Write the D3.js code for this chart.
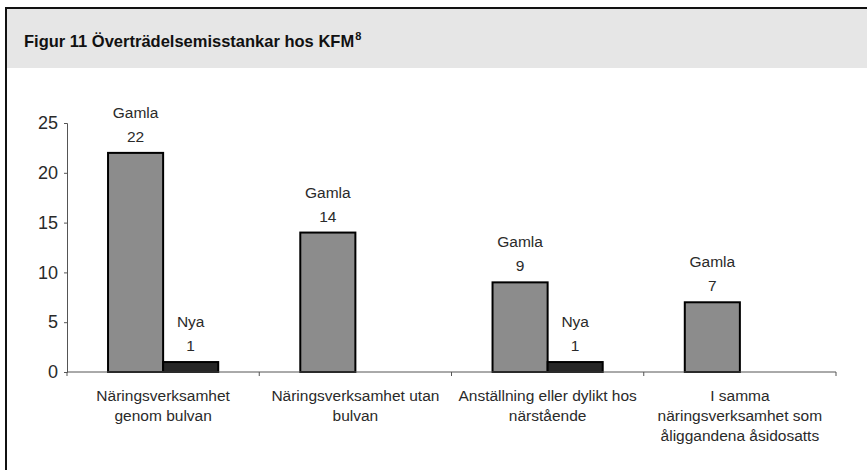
<!DOCTYPE html>
<html>
<head>
<meta charset="utf-8">
<script src="https://cdn.jsdelivr.net/npm/d3@7"></script>
<style>
  body { margin: 0; background: #fff; }
  text { font-family: "Liberation Sans", Arial, sans-serif; fill: #2a2a2a; }
</style>
</head>
<body>
<svg width="867" height="470"></svg>
<script>
// data
var categories = [
  ["Näringsverksamhet", "genom bulvan"],
  ["Näringsverksamhet utan", "bulvan"],
  ["Anställning eller dylikt hos", "närstående"],
  ["I samma", "näringsverksamhet som", "åliggandena åsidosatts"]
];
var series = ["Gamla", "Nya"];
var gamla = [22, 14, 9, 7];
var nya = [1, null, 1, null];
var yTicks = [0, 5, 10, 15, 20, 25];
var colors = { "Gamla": "#8c8c8c", "Nya": "#262626" };

var svg = d3.select("svg"),
    width = +svg.attr("width"),
    height = +svg.attr("height");

// frame + header band
svg.append("rect")
    .attr("x", 7).attr("y", 8)
    .attr("width", width - 7).attr("height", 60)
    .attr("fill", "#e6e6e6");
svg.append("line")
    .attr("x1", 6).attr("x2", width).attr("y1", 8).attr("y2", 8)
    .attr("stroke", "#111").attr("stroke-width", 2);
svg.append("line")
    .attr("x1", 6).attr("x2", 6).attr("y1", 7).attr("y2", height)
    .attr("stroke", "#111").attr("stroke-width", 2);

var title = svg.append("text")
    .attr("x", 24).attr("y", 47)
    .style("font-weight", "bold")
    .style("font-size", "16.5px")
    .style("fill", "#111");
title.append("tspan").text("Figur 11 Överträdelsemisstankar hos KFM");
title.append("tspan").attr("dy", -7).attr("dx", 1).style("font-size", "11px").text("8");

// chart
var margin = { left: 67, right: 31, top: 123, bottom: 98 };
var x0 = d3.scaleBand()
    .domain(d3.range(categories.length))
    .range([margin.left, width - margin.right]);
var x1 = d3.scaleBand()
    .domain(series)
    .range([0, x0.bandwidth()])
    .paddingOuter(0.745);
var y = d3.scaleLinear()
    .domain([0, 25])
    .range([height - margin.bottom, margin.top]);

var rows = [];
categories.forEach(function(c, i) {
  rows.push({ cat: i, s: "Gamla", v: gamla[i] });
  if (nya[i] != null) rows.push({ cat: i, s: "Nya", v: nya[i] });
});

var bars = svg.append("g");
bars.selectAll("rect")
    .data(rows)
    .enter().append("rect")
    .attr("x", function(d) { return x0(d.cat) + x1(d.s); })
    .attr("y", function(d) { return y(d.v); })
    .attr("width", x1.bandwidth())
    .attr("height", function(d) { return y(0) - y(d.v); })
    .attr("fill", function(d) { return colors[d.s]; })
    .attr("stroke", "#000")
    .attr("stroke-width", 2);

var lab = svg.append("g").style("font-size", "15.5px").attr("text-anchor", "middle");
rows.forEach(function(d) {
  var cx = x0(d.cat) + x1(d.s) + x1.bandwidth() / 2;
  lab.append("text").attr("x", cx).attr("y", y(d.v) - 11).text(d.v);
  lab.append("text").attr("x", cx).attr("y", y(d.v) - 35).text(d.s);
});

// y axis
var yAxis = svg.append("g")
    .attr("transform", "translate(" + margin.left + ",0)")
    .call(d3.axisLeft(y).tickValues(yTicks).tickSize(3).tickPadding(6));
yAxis.select(".domain").attr("stroke", "#555");
yAxis.selectAll(".tick line").attr("stroke", "#555");
yAxis.selectAll("text").style("font-size", "18px").style("fill", "#2a2a2a")
    .style("font-family", "'Liberation Sans', Arial, sans-serif");

// x axis
var xb = svg.append("g").attr("transform", "translate(0," + y(0) + ")");
xb.append("line")
    .attr("x1", margin.left).attr("x2", width - margin.right)
    .attr("stroke", "#555");
xb.selectAll(".sep")
    .data(d3.range(categories.length + 1))
    .enter().append("line")
    .attr("x1", function(i) { return margin.left + i * x0.step(); })
    .attr("x2", function(i) { return margin.left + i * x0.step(); })
    .attr("y1", 0).attr("y2", 4)
    .attr("stroke", "#555");

var cl = svg.append("g").style("font-size", "15.5px").attr("text-anchor", "middle");
categories.forEach(function(lines, i) {
  var t = cl.append("text")
      .attr("x", x0(i) + x0.bandwidth() / 2)
      .attr("y", y(0) + 29);
  lines.forEach(function(l, j) {
    t.append("tspan")
        .attr("x", x0(i) + x0.bandwidth() / 2)
        .attr("dy", j === 0 ? 0 : 20)
        .text(l);
  });
});
</script>
</body>
</html>
